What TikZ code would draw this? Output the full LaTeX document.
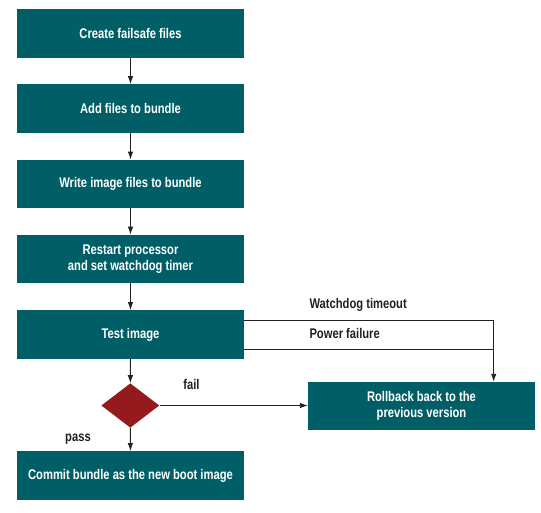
\documentclass[tikz,border=0pt]{standalone}
\usepackage{fontspec}
\setmainfont{Liberation Sans}[FakeStretch=0.8]
\usetikzlibrary{shapes.geometric,arrows.meta}
\definecolor{boxteal}{RGB}{0,94,102}
\definecolor{diared}{RGB}{148,26,30}
\definecolor{ink}{RGB}{35,31,32}
\begin{document}
\begin{tikzpicture}[x=1pt,y=-1pt,
  stepbox/.style={fill=boxteal,text=white,minimum width=227pt,minimum height=48.5pt,
    inner sep=0pt,align=center,font=\fontsize{14pt}{16pt}\selectfont\bfseries},
  lbl/.style={text=ink,inner sep=0pt,font=\fontsize{14pt}{16pt}\selectfont\bfseries},
  conn/.style={draw=ink,line width=0.9pt},
  arr/.style={conn,-{Latex[length=8pt,width=5.5pt]}}]
\useasboundingbox (0,0) rectangle (541,512);
\node[stepbox] (b1) at (130.5,33.5) {Create failsafe files};
\node[stepbox] (b2) at (130.5,108.5) {Add files to bundle};
\node[stepbox] (b3) at (130.5,184) {Write image files to bundle};
\node[stepbox] (b4) at (130.5,259) {Restart processor\\and set watchdog timer};
\node[stepbox] (b5) at (130.5,334.5) {Test image};
\node[diamond,fill=diared,minimum width=58pt,minimum height=44.4pt,inner sep=0pt,aspect=1.3] (d) at (130.3,405.5) {};
\node[stepbox] (b6) at (130.5,475.5) {Commit bundle as the new boot image};
\node[stepbox,minimum height=47.5pt] (rb) at (421.5,405.75) {Rollback back to the\\previous version};
\coordinate (wd) at (244,320.7);
\coordinate (pf) at (244,349.7);
\coordinate (jn) at (493.7,349.7);
\draw[arr] (b1) -- (b2);
\draw[arr] (b2) -- (b3);
\draw[arr] (b3) -- (b4);
\draw[arr] (b4) -- (b5);
\draw[arr] (b5) -- (d);
\draw[arr] (d) -- (b6);
\draw[arr] (d.east) -- (rb.west |- d.east);
\draw[arr] (wd) -| (rb.north -| jn);
\draw[conn] (pf) -- (jn);
\node[lbl,anchor=west] (t1) at (309.3,305) {Watchdog timeout};
\node[lbl,anchor=west] (t2) at (309.3,333.3) {Power failure};
\node[lbl] (t3) at (191.5,384) {fail};
\node[lbl] (t4) at (78,439) {pass};
\end{tikzpicture}
\end{document}
